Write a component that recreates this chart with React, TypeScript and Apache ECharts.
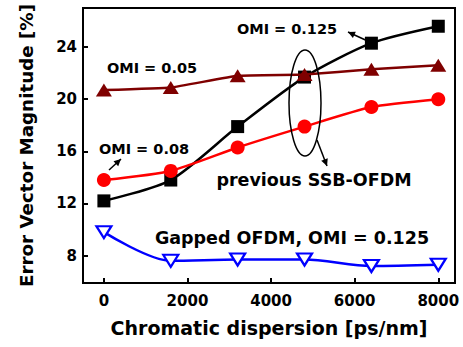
import React, { useEffect, useRef } from "react";
import * as echarts from "echarts";

const dispersion = [0, 1600, 3200, 4800, 6400, 8000];
const omi0125 = [12.2, 13.8, 17.9, 21.7, 24.3, 25.6];
const omi005 = [20.7, 20.9, 21.8, 21.9, 22.3, 22.6];
const omi008 = [13.8, 14.5, 16.3, 17.9, 19.4, 20.0];
const gappedOfdm = [9.8, 7.6, 7.7, 7.7, 7.2, 7.3];

const xTitle = "Chromatic dispersion [ps/nm]";
const yTitle = "Error Vector Magnitude [%]";

const FONT = '"DejaVu Sans", sans-serif';

function pairs(ys: number[]) {
  return dispersion.map((x, i) => [x, ys[i]]);
}

function arrowHead(hx: number, hy: number, tx: number, ty: number) {
  const dx = hx - tx;
  const dy = hy - ty;
  const len = Math.hypot(dx, dy);
  const ux = dx / len;
  const uy = dy / len;
  const L = 7;
  const W = 3.5;
  const bx = hx - ux * L;
  const by = hy - uy * L;
  return [
    [hx, hy],
    [bx - uy * W, by + ux * W],
    [bx + uy * W, by - ux * W],
  ];
}

function arrow(tx: number, ty: number, hx: number, hy: number) {
  return [
    {
      type: "line",
      shape: { x1: tx, y1: ty, x2: hx, y2: hy },
      style: { stroke: "#000", lineWidth: 1.5 },
      z: 100,
    },
    {
      type: "polygon",
      shape: { points: arrowHead(hx, hy, tx, ty) },
      style: { fill: "#000" },
      z: 100,
    },
  ];
}

export default function App() {
  const ref = useRef<HTMLDivElement>(null);
  useEffect(() => {
    if (!ref.current) return;
    const chart = echarts.init(ref.current, null, { renderer: "svg" });
    const txt = (text: string, x: number, y: number, size: number) => ({
      type: "text",
      x,
      y,
      z: 100,
      style: {
        text,
        fill: "#000",
        font: `bold ${size}px ${FONT}`,
        align: "center",
        verticalAlign: "middle",
      },
    });
    chart.setOption({
      animation: false,
      backgroundColor: "#fff",
      grid: {
        left: 83,
        right: 8,
        top: 8,
        bottom: 64,
        show: true,
        borderColor: "#000",
        borderWidth: 2,
      },
      xAxis: {
        type: "value",
        min: -500,
        max: 8400,
        minInterval: 2000,
        maxInterval: 2000,
        name: xTitle,
        nameLocation: "middle",
        nameGap: 35,
        nameTextStyle: { fontFamily: FONT, fontWeight: "bold", fontSize: 19, color: "#000" },
        axisLine: { show: true, onZero: false, lineStyle: { color: "#000", width: 2 } },
        axisTick: { show: true, inside: true, length: 5, lineStyle: { color: "#000", width: 2 } },
        axisLabel: {
          margin: 10,
          fontFamily: FONT,
          fontWeight: "bold",
          fontSize: 15,
          color: "#000",
          formatter: (v: number) => (v % 2000 === 0 ? String(v) : ""),
        },
        splitLine: { show: false },
      },
      yAxis: {
        type: "value",
        min: 5.9,
        max: 27,
        minInterval: 4,
        maxInterval: 4,
        name: yTitle,
        nameLocation: "middle",
        nameGap: 48,
        nameRotate: 90,
        nameTextStyle: {
          fontFamily: FONT,
          fontWeight: "bold",
          fontSize: 18.3,
          color: "#000",
        },
        axisLine: { show: true, onZero: false, lineStyle: { color: "#000", width: 2 } },
        axisTick: { show: true, inside: true, length: 5, lineStyle: { color: "#000", width: 2 } },
        axisLabel: {
          margin: 6,
          fontFamily: FONT,
          fontWeight: "bold",
          fontSize: 15,
          color: "#000",
          formatter: (v: number) => (Math.abs(v % 4) < 1e-9 ? String(v) : ""),
        },
        splitLine: { show: false },
      },
      series: [
        {
          type: "line",
          data: pairs(omi0125),
          smooth: 0.25,
          symbol: "rect",
          symbolSize: 13,
          lineStyle: { color: "#000", width: 2.5 },
          itemStyle: { color: "#000" },
          z: 2,
        },
        {
          type: "line",
          data: pairs(gappedOfdm),
          smooth: 0.3,
          symbol: "triangle",
          symbolRotate: 180,
          symbolSize: [15, 12],
          lineStyle: { color: "#0000ff", width: 2.5 },
          itemStyle: { color: "#fff", borderColor: "#0000ff", borderWidth: 2.2 },
          z: 3,
        },
        {
          type: "line",
          data: pairs(omi008),
          smooth: 0.2,
          symbol: "circle",
          symbolSize: 14,
          lineStyle: { color: "#ff0000", width: 2.5 },
          itemStyle: { color: "#ff0000" },
          z: 4,
        },
        {
          type: "line",
          data: pairs(omi005),
          smooth: 0.1,
          symbol: "triangle",
          symbolSize: [16, 13],
          lineStyle: { color: "#7f0000", width: 2.5 },
          itemStyle: { color: "#7f0000" },
          z: 5,
        },
      ],
      graphic: [
        txt("OMI = 0.125", 287, 28.5, 14.5),
        txt("OMI = 0.05", 152, 67.5, 14.5),
        txt("OMI = 0.08", 144, 149, 14.5),
        txt("previous SSB-OFDM", 314, 180, 17.5),
        txt("Gapped OFDM, OMI = 0.125", 292, 238, 17.5),
        ...arrow(372, 43, 348, 32),
        ...arrow(109, 170, 121, 159),
        ...arrow(317, 140, 327, 166),
        {
          type: "ellipse",
          shape: { cx: 305, cy: 103, rx: 16, ry: 53 },
          style: { fill: "none", stroke: "#000", lineWidth: 1.5 },
          z: 100,
        },
      ],
    });
    return () => chart.dispose();
  }, []);
  return <div ref={ref} style={{ width: 463, height: 347, position: "absolute", left: 0, top: 0 }} />;
}
